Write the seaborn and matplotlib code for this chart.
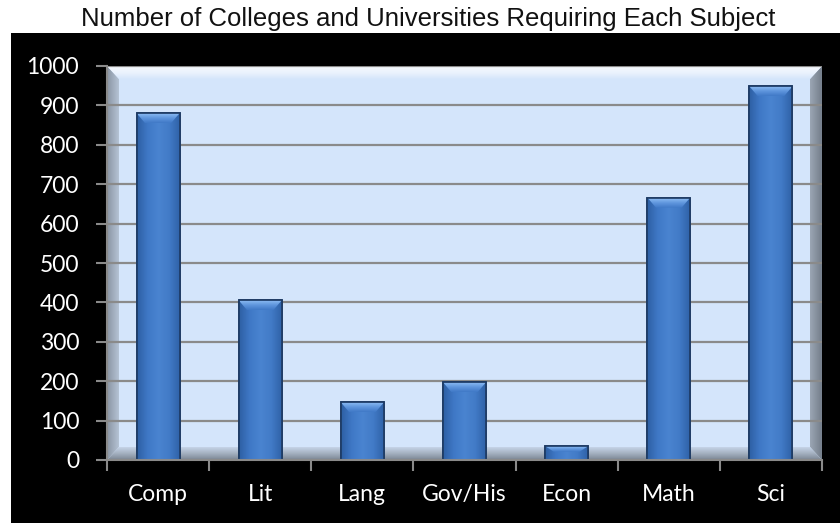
import numpy as np
import pandas as pd
import matplotlib
matplotlib.use("Agg")
import matplotlib.pyplot as plt
from matplotlib.patches import Polygon, Rectangle
from matplotlib.colors import LinearSegmentedColormap
import seaborn as sns

# ---- data ----
categories = ["Comp", "Lit", "Lang", "Gov/His", "Econ", "Math", "Sci"]
values = [880, 405, 146, 197, 35, 666, 948]
yticks = [0, 100, 200, 300, 400, 500, 600, 700, 800, 900, 1000]
title = "Number of Colleges and Universities Requiring Each Subject"

sns.set_theme(style="white")
plt.rcParams["font.family"] = ["Lato", "DejaVu Sans"]

W, H = 840, 523
fig = plt.figure(figsize=(W / 100, H / 100), dpi=100)
fig.patch.set_facecolor("white")

# black chart area
fig.patches.append(Rectangle((11 / W, 0), 1 - 11 / W, (H - 33) / H,
                             transform=fig.transFigure, facecolor="black",
                             edgecolor="none", zorder=-5))

fig.text(428 / W, 1 - 26 / H, title, ha="center", va="baseline", fontsize=18.5,
         family=["Liberation Sans", "DejaVu Sans"], color="#111111")

ax = fig.add_axes([107 / W, (H - 460) / H, (822 - 107) / W, (460 - 66) / H])
ax.set_zorder(1)
ax.set_facecolor("#d4e5fb")

df = pd.DataFrame({"subject": categories, "count": values})
sns.barplot(data=df, x="subject", y="count", ax=ax, width=0.42,
            color="#3c74c0", edgecolor="#1d3a63", linewidth=1.2,
            saturation=1, zorder=2)

ax.set_ylim(0, 1000)
ax.set_xlim(-0.5, len(categories) - 0.5)
ax.set_yticks(yticks)
ax.set_yticklabels([str(v) for v in yticks])

# grid
ax.set_axisbelow(True)
ax.yaxis.grid(True, color="#8a8a8a", linewidth=1.6)
ax.xaxis.grid(False)

# wall bevels
dx, dy = 12 / 715, 13 / 394
def bevel(poly_pts, grad, cmap_colors):
    poly = Polygon(poly_pts, closed=True, transform=ax.transAxes,
                   facecolor="none", edgecolor="none")
    ax.add_patch(poly)
    cmap = LinearSegmentedColormap.from_list("b", cmap_colors)
    im = ax.imshow(grad, extent=[0, 1, 0, 1], transform=ax.transAxes,
                   cmap=cmap, aspect="auto", zorder=0.2, vmin=0, vmax=1,
                   interpolation="bilinear")
    im.set_clip_path(poly)

g = np.linspace(0, 1, 256)
horiz = np.tile(g, (2, 1))
vert = np.tile(g[:, None], (1, 2))  # row 0 at top with origin upper
bevel([(0, 0), (dx, dy), (dx, 1 - dy), (0, 1)], horiz,
      ["#8e99a8", "#b8c6d8", "#cfdff4", "#d4e5fb"] + ["#d4e5fb"] * 60)
bevel([(1, 0), (1 - dx, dy), (1 - dx, 1 - dy), (1, 1)], horiz,
      ["#d4e5fb"] * 60 + ["#d4e5fb", "#c4d3e6", "#9ea9b7", "#78828f"])
bevel([(0, 1), (1, 1), (1 - dx, 1 - dy), (dx, 1 - dy)], vert,
      ["#f6f9fe", "#eaf2fd"] + ["#d4e5fb"] * 2 + ["#d4e5fb"] * 60)
bevel([(0, 0), (1, 0), (1 - dx, dy), (dx, dy)], vert,
      ["#d4e5fb"] * 60 + ["#c8d7eb", "#a7b3c3", "#7f8a98"])

ax.set_xlim(-0.5, len(categories) - 0.5)
ax.set_ylim(0, 1000)

# bar shading
body_cmap = LinearSegmentedColormap.from_list(
    "body", ["#2d5fa3", "#3f78c6", "#4a84d0", "#427bc7", "#2f62a8"])
top_cmap = LinearSegmentedColormap.from_list(
    "top", ["#8dbcf3", "#5f96dd", "#3f78c6"])
px_per_unit_y = 394 / 1000
for p in list(ax.patches):
    if not isinstance(p, Rectangle) or p.get_height() <= 0:
        continue
    x0, w, h = p.get_x(), p.get_width(), p.get_height()
    im = ax.imshow(np.tile(g, (2, 1)), extent=[x0, x0 + w, 0, h],
                   cmap=body_cmap, aspect="auto", zorder=2.1,
                   interpolation="bilinear")
    im.set_clip_path(p)
    bh = min(10 / px_per_unit_y, h * 0.4)
    bw = w * 0.2
    top = Polygon([(x0, h), (x0 + w, h), (x0 + w - bw, h - bh), (x0 + bw, h - bh)],
                  closed=True, facecolor="none", edgecolor="none")
    ax.add_patch(top)
    im2 = ax.imshow(np.tile(g[:, None], (1, 2)), extent=[x0, x0 + w, h - bh, h],
                    cmap=top_cmap, aspect="auto", zorder=2.2,
                    interpolation="bilinear")
    im2.set_clip_path(top)
    ax.add_patch(Rectangle((x0, 0), w, h, facecolor="none",
                           edgecolor="#1d3a63", linewidth=1.2, zorder=2.3))

ax.set_xlim(-0.5, len(categories) - 0.5)
ax.set_ylim(0, 1000)

for s in ["top", "right"]:
    ax.spines[s].set_visible(False)
for s in ["left", "bottom"]:
    ax.spines[s].set_color("#8a8a8a")
    ax.spines[s].set_linewidth(1.5)
    ax.spines[s].set_zorder(3)

ax.set_xlabel("")
ax.set_ylabel("")
ax.set_xticks(range(len(categories)))
ax.set_xticklabels(categories)
ax.set_xticks(np.arange(-0.5, len(categories)), minor=True)
ax.tick_params(axis="x", which="major", length=0, pad=17, colors="white",
               labelsize=16.5)
ax.tick_params(axis="x", which="minor", length=8, width=1.5, color="#8a8a8a",
               direction="out", bottom=True)
ax.tick_params(axis="y", which="major", length=8, width=1.5, color="#8a8a8a",
               direction="out", left=True, pad=12, labelcolor="white",
               labelsize=16.5)

fig.savefig("out.png", dpi=100, facecolor=fig.get_facecolor())
